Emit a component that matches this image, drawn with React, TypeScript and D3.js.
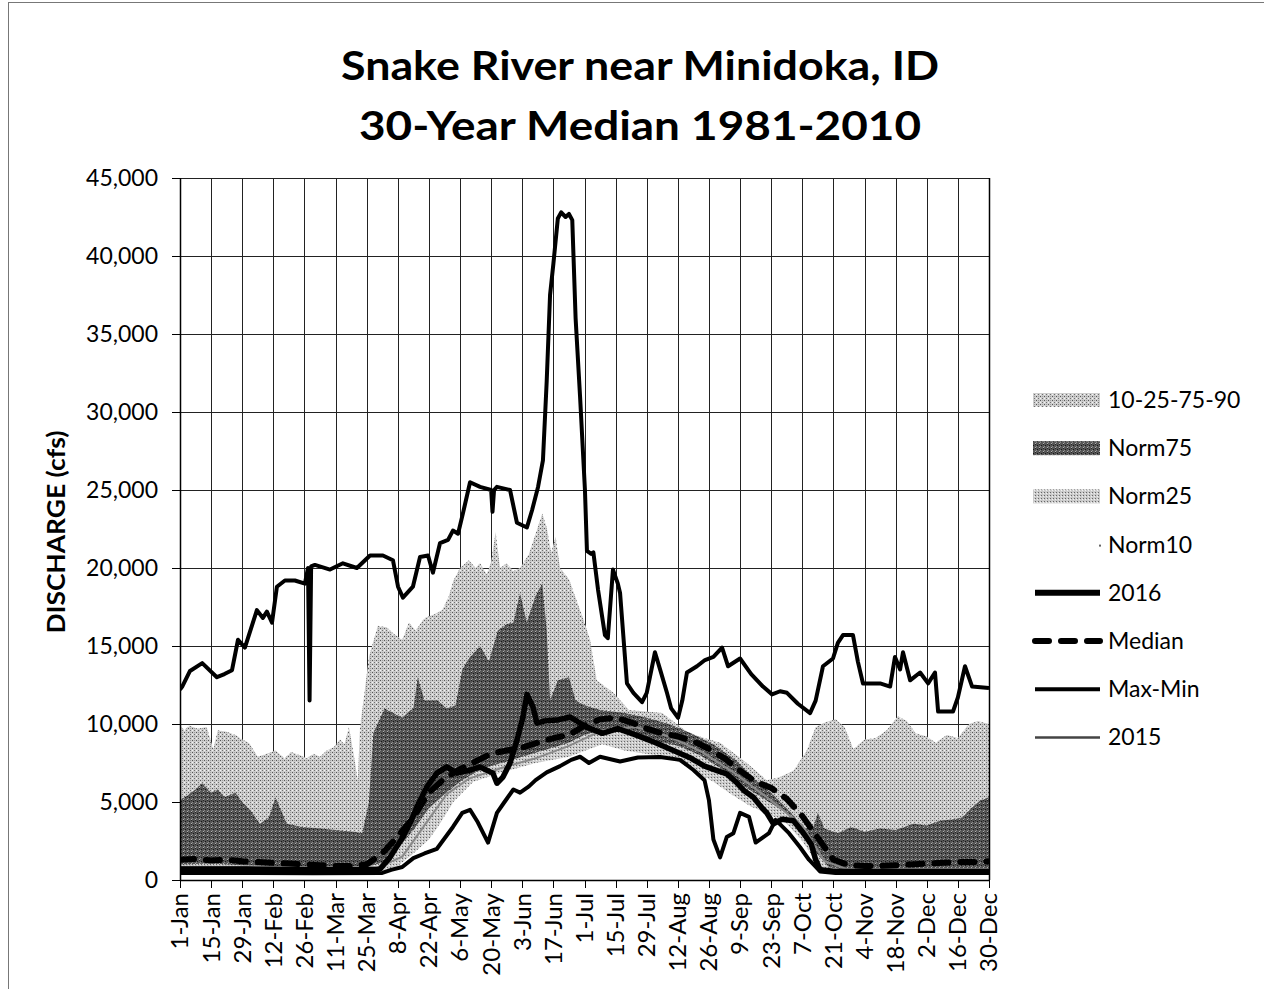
import React from 'react';
import * as d3 from 'd3';

type Pt = [number, number]; // [day of year (0 = 1-Jan), discharge cfs]

// x axis labels, one every 14 days starting 1-Jan (2016 is a leap year)
const tickLabels = [
  '1-Jan', '15-Jan', '29-Jan', '12-Feb', '26-Feb', '11-Mar', '25-Mar', '8-Apr', '22-Apr',
  '6-May', '20-May', '3-Jun', '17-Jun', '1-Jul', '15-Jul', '29-Jul', '12-Aug', '26-Aug',
  '9-Sep', '23-Sep', '7-Oct', '21-Oct', '4-Nov', '18-Nov', '2-Dec', '16-Dec', '30-Dec',
];
const yTicks = [0, 5000, 10000, 15000, 20000, 25000, 30000, 35000, 40000, 45000];

// 90th percentile (top of "10-25-75-90" band)
const p90: Pt[] = [
  [0, 9900], [2, 9600], [4, 9900], [8, 9700], [12, 9800], [15, 8400], [17, 9600], [21, 9500],
  [25, 9300], [28, 9000], [31, 8800], [35, 7900], [39, 8100], [43, 8300], [47, 7800], [50, 8200],
  [54, 8000], [57, 7800], [60, 8100], [63, 7900], [66, 8300], [69, 8500], [72, 9000], [74, 8700],
  [76, 9800], [78, 8200], [80, 6400], [81, 9800], [83, 12000], [85, 14300], [89, 16300], [93, 16200],
  [96, 15800], [100, 15400], [103, 16500], [106, 16000], [110, 16800], [114, 17000], [118, 17300],
  [121, 18200], [123, 19200], [126, 20000], [130, 20500], [133, 20000], [135, 20300], [138, 19600],
  [140, 20400], [142, 22300], [144, 20000], [147, 20300], [150, 19800], [153, 20000], [157, 20900],
  [160, 22200], [163, 23500], [165, 22600], [167, 21000], [169, 22000], [171, 20000], [175, 19300],
  [178, 18100], [182, 16500], [184.5, 15400], [187.5, 12800], [195, 12000], [202, 10900], [217, 10700],
  [229, 9400], [243, 8800], [255, 7500], [264, 6400], [270, 6600], [276, 7000], [282, 8300],
  [286, 9800], [290, 10100], [295, 10300], [299, 9800], [303, 8400], [308, 9000], [313, 9100],
  [318, 9600], [323, 10500], [327, 10200], [331, 9400], [336, 9200], [340, 8800], [345, 9300],
  [350, 9100], [355, 10000], [359, 10200], [364, 10000],
];

// 75th percentile (top of Norm75 band)
const p75: Pt[] = [
  [0, 5100], [4, 5500], [7, 5800], [10, 6200], [14, 5600], [17, 5800], [20, 5300], [25, 5600],
  [28, 5000], [32, 4400], [36, 3600], [40, 4000], [43, 5300], [46, 4300], [48, 3600], [55, 3400],
  [63, 3300], [70, 3200], [78, 3100], [82, 3000], [85, 5000], [87, 9400], [92, 11000], [100, 10400],
  [103, 10800], [105, 11000], [107, 13000], [110, 11500], [116, 11500], [120, 11000], [124, 11200],
  [127, 13500], [130, 14200], [135, 15000], [139, 14000], [143, 16000], [147, 16400], [150, 16500],
  [153, 18400], [156, 16500], [160, 18200], [163, 19000], [165, 16000], [166.5, 11500], [170, 12800],
  [175, 13000], [178, 11500], [182, 11200], [189, 10900], [200, 10700], [210, 10400], [220, 10000],
  [230, 9400], [240, 8700], [250, 7700], [258, 6500], [266, 5600], [275, 4300], [281, 3300],
  [285, 3400], [287, 4300], [290, 3300], [296, 3000], [302, 3400], [308, 3100], [315, 3300],
  [322, 3200], [330, 3600], [336, 3500], [342, 3800], [348, 3900], [352, 4000], [356, 4600],
  [360, 5100], [364, 5300],
];

// 25th percentile (top of Norm25 band)
const p25: Pt[] = [
  [0, 1000], [14, 1050], [28, 950], [42, 900], [56, 850], [70, 800], [84, 850], [91, 1100],
  [98, 2000], [105, 3200], [112, 4600], [119, 5500], [126, 6300], [133, 6900], [140, 7300],
  [147, 7600], [154, 7900], [161, 8200], [168, 8500], [175, 8800], [182, 9300], [189, 9600],
  [200, 9500], [214, 8900], [224, 8600], [234, 8000], [245, 7000], [255, 5900], [264, 5100],
  [273, 4300], [280, 3200], [286, 1800], [292, 800], [300, 650], [320, 650], [340, 700], [364, 750],
];

// 10th percentile (top of Norm10, white)
const p10: Pt[] = [
  [0, 550], [14, 550], [28, 550], [42, 500], [56, 500], [70, 450], [84, 500], [91, 600], [98, 900],
  [105, 1700], [112, 2600], [116, 3400], [123, 5000], [132, 6300], [145, 6900], [160, 7500],
  [175, 7900], [190, 8700], [200, 8300], [214, 8000], [224, 7600], [232, 6900], [240, 6300],
  [248, 5500], [257, 4700], [264, 4300], [273, 3600], [280, 2500], [286, 1200], [290, 500],
  [300, 450], [320, 450], [340, 450], [364, 500],
];

const median: Pt[] = [
  [0, 1300], [7, 1350], [14, 1250], [21, 1300], [28, 1200], [35, 1150], [42, 1100], [49, 1050],
  [56, 1000], [63, 950], [70, 900], [77, 900], [84, 1000], [91, 1700], [98, 2800], [105, 4000],
  [112, 5600], [119, 6500], [126, 7100], [133, 7600], [140, 8100], [147, 8300], [154, 8500],
  [161, 8800], [168, 9100], [175, 9300], [182, 9900], [189, 10300], [196, 10400], [203, 10100],
  [210, 9700], [217, 9400], [224, 9200], [231, 8900], [238, 8400], [245, 7800], [252, 7000],
  [259, 6300], [266, 5900], [273, 5200], [280, 4100], [287, 2700], [294, 1300], [301, 950],
  [308, 900], [315, 900], [322, 950], [329, 1000], [336, 1050], [343, 1100], [350, 1150],
  [357, 1150], [364, 1200],
];

const maxFlow: Pt[] = [
  [0, 12200], [1, 12400], [4.5, 13400], [10, 13900], [16.6, 13000], [20, 13200], [23.4, 13450],
  [26.1, 15400], [29.2, 14900], [34.6, 17300], [37.3, 16800], [39.1, 17200], [41.4, 16500],
  [43.6, 18800], [47.2, 19200], [51.7, 19200], [56.2, 19000], [57.6, 20000], [58.3, 11500],
  [59, 20100], [60.7, 20200], [67.5, 19900], [73.3, 20300], [79.6, 20000], [85.5, 20800],
  [91.3, 20800], [95.8, 20500], [98.1, 18800], [100.3, 18100], [104.8, 18800], [108, 20700],
  [111.6, 20800], [113.8, 19700], [117, 21600], [120.6, 21800], [122.8, 22400], [125.1, 22200],
  [127.3, 23500], [130.5, 25500], [135, 25200], [140, 25000], [140.6, 23600], [141.3, 25000],
  [142.6, 25200], [148.5, 25000], [151.6, 22900], [156.1, 22600], [158.4, 23700], [161.1, 25200],
  [163.3, 26900], [165, 32000], [166.5, 37500], [168, 39500], [170, 42400], [171.5, 42800],
  [173.5, 42500], [175, 42700], [176.5, 42300], [178, 36000], [180, 31000], [182.2, 25000],
  [183.1, 21100], [185, 20900], [186, 21000], [188.1, 18600], [191.2, 15700], [192.5, 15500],
  [194.8, 19900], [197, 19000], [198, 18400], [201.1, 12600], [204, 12000], [207.9, 11400],
  [210, 12000], [213.7, 14600], [216, 13500], [219.1, 12000], [221, 11000], [224.1, 10400],
  [226, 11500], [228.1, 13300], [232.6, 13700], [236.2, 14100], [240, 14300], [243.9, 14900],
  [246.6, 13700], [252, 14200], [257, 13200], [262.3, 12400], [266.4, 11900], [270, 12100],
  [273.1, 12000], [278, 11300], [283.5, 10700], [286, 11500], [289.3, 13700], [293.8, 14200],
  [296, 15200], [298.3, 15700], [302.8, 15700], [305, 14000], [307.3, 12600], [315, 12600],
  [319.5, 12400], [321.7, 14300], [324, 13500], [325.3, 14600], [328.5, 12800], [333, 13300],
  [336.6, 12600], [339.7, 13300], [341.1, 10800], [347.8, 10800], [350, 11700], [353.2, 13700],
  [356.4, 12400], [364, 12300],
];

const minFlow: Pt[] = [
  [0, 450], [30, 450], [60, 430], [91, 450], [95, 650], [100, 830], [105, 1400], [110, 1700],
  [115.6, 2000], [122.8, 3400], [127, 4300], [130.5, 4500], [134, 3700], [138.6, 2400],
  [142.6, 4300], [146, 5000], [150, 5800], [153, 5600], [157, 6000], [160, 6400], [165, 6900],
  [171, 7300], [176, 7700], [180, 7900], [184, 7500], [189, 7900], [198, 7600], [206, 7850],
  [216, 7880], [225, 7700], [231, 7050], [236, 6400], [238, 5100], [240, 2600], [243, 1450],
  [246, 2750], [249, 3000], [252, 4300], [256, 4050], [259, 2400], [262, 2700], [265, 3000],
  [268, 3850], [274, 3000], [279, 2100], [283, 1300], [288, 550], [295, 450], [330, 450], [364, 450],
];

const flow2016: Pt[] = [
  [0, 700], [30, 700], [60, 650], [88, 650], [90, 700], [94.5, 1450], [100, 2700], [104, 3800],
  [106.6, 4700], [111, 5950], [115.6, 6850], [120, 7250], [124.6, 6850], [130.5, 7050],
  [135, 7250], [140.8, 6850], [142.6, 6200], [145.3, 6600], [148.5, 7500], [151.6, 8950],
  [154.3, 10450], [156.1, 11900], [158.8, 11100], [160.6, 10050], [164, 10200], [169.6, 10250],
  [175.5, 10450], [183, 9800], [190, 9400], [197, 9700], [205, 9300], [214, 8800], [222, 8300],
  [230, 7800], [236, 7300], [242, 7000], [246, 6800], [250, 6300], [254, 5700], [258, 5300],
  [262, 4600], [264, 4300], [267, 3600], [271, 3900], [276, 3800], [280, 3100], [284, 2300],
  [286, 1300], [288, 650], [295, 550], [364, 550],
];

const flow2015: Pt[] = [
  [0, 850], [30, 850], [60, 800], [90, 850], [100, 1500], [110, 3500], [120, 5500], [130, 6500],
  [145, 7200], [160, 7800], [175, 8600], [190, 9600], [205, 9800], [220, 9200], [235, 8200],
  [250, 6800], [265, 5200], [280, 3500], [290, 1200], [300, 700], [364, 700],
];

const FONT = "Lato, 'Open Sans', Arial, sans-serif";

export default function App() {
  const x = d3.scaleLinear().domain([0, 364]).range([180, 989]);
  const y = d3.scaleLinear().domain([0, 45000]).range([880, 178]);

  const area = d3
    .area<Pt>()
    .x((d) => x(d[0]))
    .y0(y(0))
    .y1((d) => y(d[1]));
  const line = d3
    .line<Pt>()
    .x((d) => x(d[0]))
    .y((d) => y(d[1]));

  const legendItems = [
    { label: '10-25-75-90', kind: 'fill', fill: 'url(#patLight)' },
    { label: 'Norm75', kind: 'fill', fill: 'url(#patDark)' },
    { label: 'Norm25', kind: 'fill', fill: 'url(#patNorm25)' },
    { label: 'Norm10', kind: 'dot' },
    { label: '2016', kind: 'line', width: 6, color: '#000' },
    { label: 'Median', kind: 'line', width: 6, color: '#000', dash: '14,12' },
    { label: 'Max-Min', kind: 'line', width: 4, color: '#000' },
    { label: '2015', kind: 'line', width: 2.5, color: '#444' },
  ];

  return (
    <svg
      width={1264}
      height={989}
      style={{ position: 'absolute', left: 0, top: 0, background: '#fff' }}
      fontFamily={FONT}
    >
      <defs>
        <pattern id="patLight" width={4} height={4} patternUnits="userSpaceOnUse">
          <rect width={4} height={4} fill="#cdcdcd" />
          <rect x={0} y={0} width={1} height={1} fill="#555" />
          <rect x={2} y={2} width={1} height={1} fill="#707070" />
          <rect x={2} y={0} width={1} height={1} fill="#a0a0a0" />
          <rect x={0} y={2} width={1} height={1} fill="#f4f4f4" />
        </pattern>
        <pattern id="patNorm25" width={3} height={3} patternUnits="userSpaceOnUse">
          <rect width={3} height={3} fill="#cbcbcb" />
          <rect x={0} y={0} width={1} height={1} fill="#666" />
          <rect x={2} y={1} width={1} height={1} fill="#f0f0f0" />
        </pattern>
        <pattern id="patDark" width={4} height={4} patternUnits="userSpaceOnUse">
          <rect width={4} height={4} fill="#555" />
          <rect x={1} y={1} width={1} height={1} fill="#151515" />
          <rect x={3} y={3} width={1} height={1} fill="#b0b0b0" />
          <rect x={3} y={0} width={1} height={1} fill="#252525" />
          <rect x={0} y={2} width={1} height={1} fill="#8a8a8a" />
        </pattern>
        <clipPath id="plotClip">
          <rect x={180} y={178} width={809} height={702} />
        </clipPath>
      </defs>

      {/* outer frame */}
      <line x1={8.5} x2={8.5} y1={2} y2={989} stroke="#777" strokeWidth={1} />
      <line x1={8} x2={1264} y1={2.5} y2={2.5} stroke="#777" strokeWidth={1} />

      {/* title */}
      <text x={640} y={80} textAnchor="middle" fontSize={40} fontWeight="bold" textLength={598} lengthAdjust="spacingAndGlyphs">
        Snake River near Minidoka, ID
      </text>
      <text x={640} y={140} textAnchor="middle" fontSize={40} fontWeight="bold" textLength={562} lengthAdjust="spacingAndGlyphs">
        30-Year Median 1981-2010
      </text>

      {/* gridlines */}
      <g stroke="#222" strokeWidth={1}>
        {yTicks.map((v) => (
          <line key={`h${v}`} x1={180} x2={989} y1={Math.round(y(v)) + 0.5} y2={Math.round(y(v)) + 0.5} />
        ))}
        {tickLabels.map((t, i) => (
          <line key={`v${t}`} x1={Math.round(x(i * 14)) + 0.5} x2={Math.round(x(i * 14)) + 0.5} y1={178} y2={880} />
        ))}
      </g>

      {/* percentile bands */}
      <g clipPath="url(#plotClip)">
        <path d={area(p90) || ''} fill="url(#patLight)" />
        <path d={area(p75) || ''} fill="url(#patDark)" />
        <path d={area(p25) || ''} fill="url(#patNorm25)" />
        <path d={area(p10) || ''} fill="#fff" />

        {/* lines */}
        <path d={line(flow2015) || ''} fill="none" stroke="#8a8a8a" strokeWidth={2} />
        <path d={line(maxFlow) || ''} fill="none" stroke="#000" strokeWidth={4} strokeLinejoin="round" />
        <path d={line(minFlow) || ''} fill="none" stroke="#000" strokeWidth={4} strokeLinejoin="round" />
        <path d={line(median) || ''} fill="none" stroke="#000" strokeWidth={6} strokeDasharray="14,12" strokeLinecap="round" />
        <path d={line(flow2016) || ''} fill="none" stroke="#000" strokeWidth={5.5} strokeLinejoin="round" />
      </g>

      {/* axes */}
      <line x1={180.5} x2={180.5} y1={178} y2={880} stroke="#000" strokeWidth={1.5} />
      <line x1={180} x2={989} y1={880.5} y2={880.5} stroke="#000" strokeWidth={1.5} />
      <line x1={989.5} x2={989.5} y1={178} y2={880} stroke="#000" strokeWidth={1.5} />
      {yTicks.map((v) => (
        <g key={`yt${v}`}>
          <line x1={172} x2={180} y1={Math.round(y(v)) + 0.5} y2={Math.round(y(v)) + 0.5} stroke="#000" />
          <text x={158} y={y(v)} dy="0.35em" textAnchor="end" fontSize={23}>
            {d3.format(',')(v)}
          </text>
        </g>
      ))}
      {tickLabels.map((t, i) => (
        <g key={`xt${t}`}>
          <line x1={Math.round(x(i * 14)) + 0.5} x2={Math.round(x(i * 14)) + 0.5} y1={880} y2={888} stroke="#000" />
          <text
            transform={`translate(${x(i * 14)},${893}) rotate(-90)`}
            dy="0.35em"
            textAnchor="end"
            fontSize={24}
          >
            {t}
          </text>
        </g>
      ))}
      <text
        transform="translate(57,532) rotate(-90)"
        textAnchor="middle"
        dy="0.35em"
        fontSize={24}
        fontWeight="bold"
        textLength={203}
        lengthAdjust="spacingAndGlyphs"
      >
        DISCHARGE (cfs)
      </text>

      {/* legend */}
      {legendItems.map((it, i) => {
        const cy = 400 + i * 48.2;
        return (
          <g key={it.label}>
            {it.kind === 'fill' && <rect x={1033} y={cy - 7} width={67} height={14} fill={it.fill} />}
            {it.kind === 'dot' && <rect x={1099} y={cy} width={2} height={2} fill="#666" />}
            {it.kind === 'line' && (
              <line
                x1={1035}
                x2={1100}
                y1={cy}
                y2={cy}
                stroke={it.color}
                strokeWidth={it.width}
                strokeDasharray={it.dash}
                strokeLinecap={it.dash ? 'round' : 'butt'}
              />
            )}
            <text x={1108} y={cy} dy="0.35em" fontSize={23}>
              {it.label}
            </text>
          </g>
        );
      })}
    </svg>
  );
}
